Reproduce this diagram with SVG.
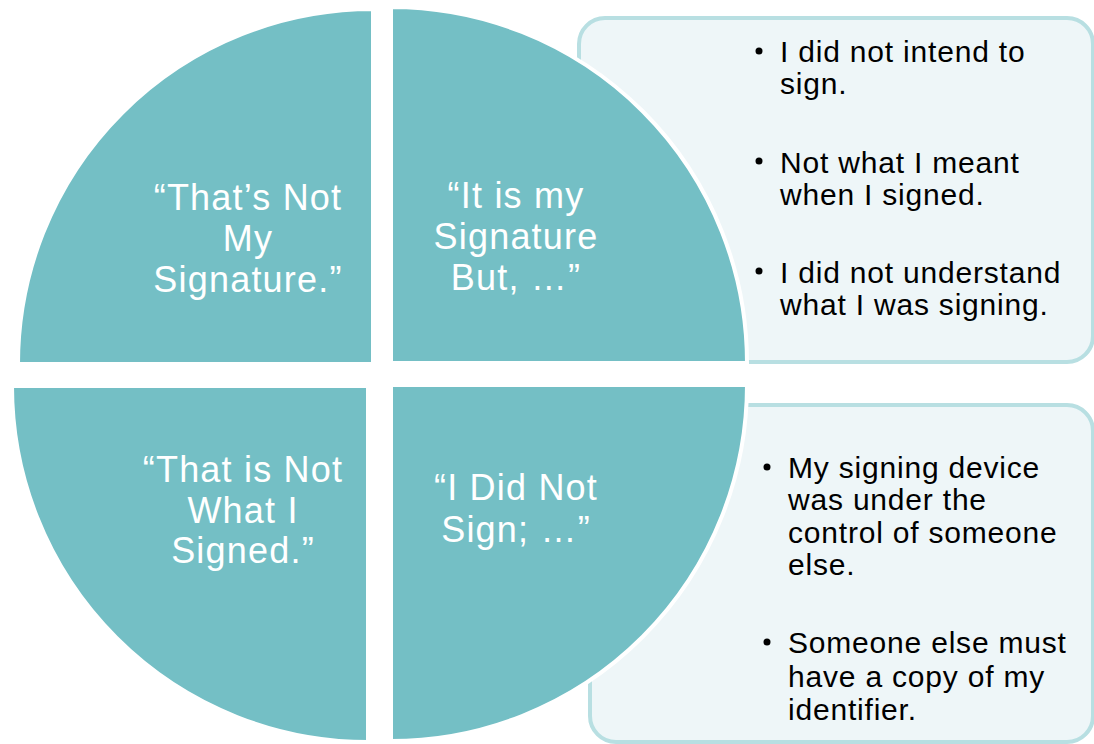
<svg xmlns="http://www.w3.org/2000/svg" width="1094" height="744" viewBox="0 0 1094 744">
<style>
.box{fill:#eef6f8;stroke:#b8dfe2;stroke-width:4}
.q{fill:#74bfc5;stroke:#ffffff;stroke-width:4}
.qt{font-family:"Liberation Sans",Arial,sans-serif;font-size:36px;fill:#ffffff;text-anchor:middle;letter-spacing:1.2px}
.bt{font-family:"Liberation Sans",Arial,sans-serif;font-size:30px;fill:#000000;letter-spacing:0.8px}
.dot{fill:#000000}
</style>
<rect width="1094" height="744" fill="#ffffff"/>
<g id="box-top">
<rect class="box" x="579" y="18" width="514" height="344" rx="26"/>
<circle class="dot" cx="759" cy="51" r="3.5"/>
<text class="bt" x="780" y="62">I did not intend to</text>
<text class="bt" x="780" y="94">sign.</text>
<circle class="dot" cx="759" cy="161" r="3.5"/>
<text class="bt" x="780" y="173">Not what I meant</text>
<text class="bt" x="780" y="205">when I signed.</text>
<circle class="dot" cx="759" cy="271" r="3.5"/>
<text class="bt" x="780" y="283">I did not understand</text>
<text class="bt" x="780" y="315">what I was signing.</text>
</g>
<g id="box-bottom">
<rect class="box" x="590" y="405" width="503" height="337" rx="26"/>
<circle class="dot" cx="767" cy="467" r="3.5"/>
<text class="bt" x="788" y="478">My signing device</text>
<text class="bt" x="788" y="510">was under the</text>
<text class="bt" x="788" y="543">control of someone</text>
<text class="bt" x="788" y="575">else.</text>
<circle class="dot" cx="767" cy="642" r="3.5"/>
<text class="bt" x="788" y="653">Someone else must</text>
<text class="bt" x="788" y="687">have a copy of my</text>
<text class="bt" x="788" y="720">identifier.</text>
</g>
<g id="q-top-left">
<path class="q" d="M373,364 L18,364 A355,355 0 0 1 373,9 Z"/>
<text class="qt" x="248" y="210">“That’s Not</text>
<text class="qt" x="248" y="251">My</text>
<text class="qt" x="248" y="292">Signature.”</text>
</g>
<g id="q-top-right">
<path class="q" d="M391,363 L391,7 A356,356 0 0 1 747,363 Z"/>
<text class="qt" x="516" y="208">“It is my</text>
<text class="qt" x="516" y="249">Signature</text>
<text class="qt" x="516" y="290">But, …”</text>
</g>
<g id="q-bottom-left">
<path class="q" d="M368,386 L368,742 A356,356 0 0 1 12,386 Z"/>
<text class="qt" x="243" y="482">“That is Not</text>
<text class="qt" x="243" y="523">What I</text>
<text class="qt" x="243" y="563">Signed.”</text>
</g>
<g id="q-bottom-right">
<path class="q" d="M391,385 L747,385 A356,356 0 0 1 391,741 Z"/>
<text class="qt" x="516" y="500">“I Did Not</text>
<text class="qt" x="516" y="542">Sign; …”</text>
</g>
<g id="connectors"></g>
</svg>
